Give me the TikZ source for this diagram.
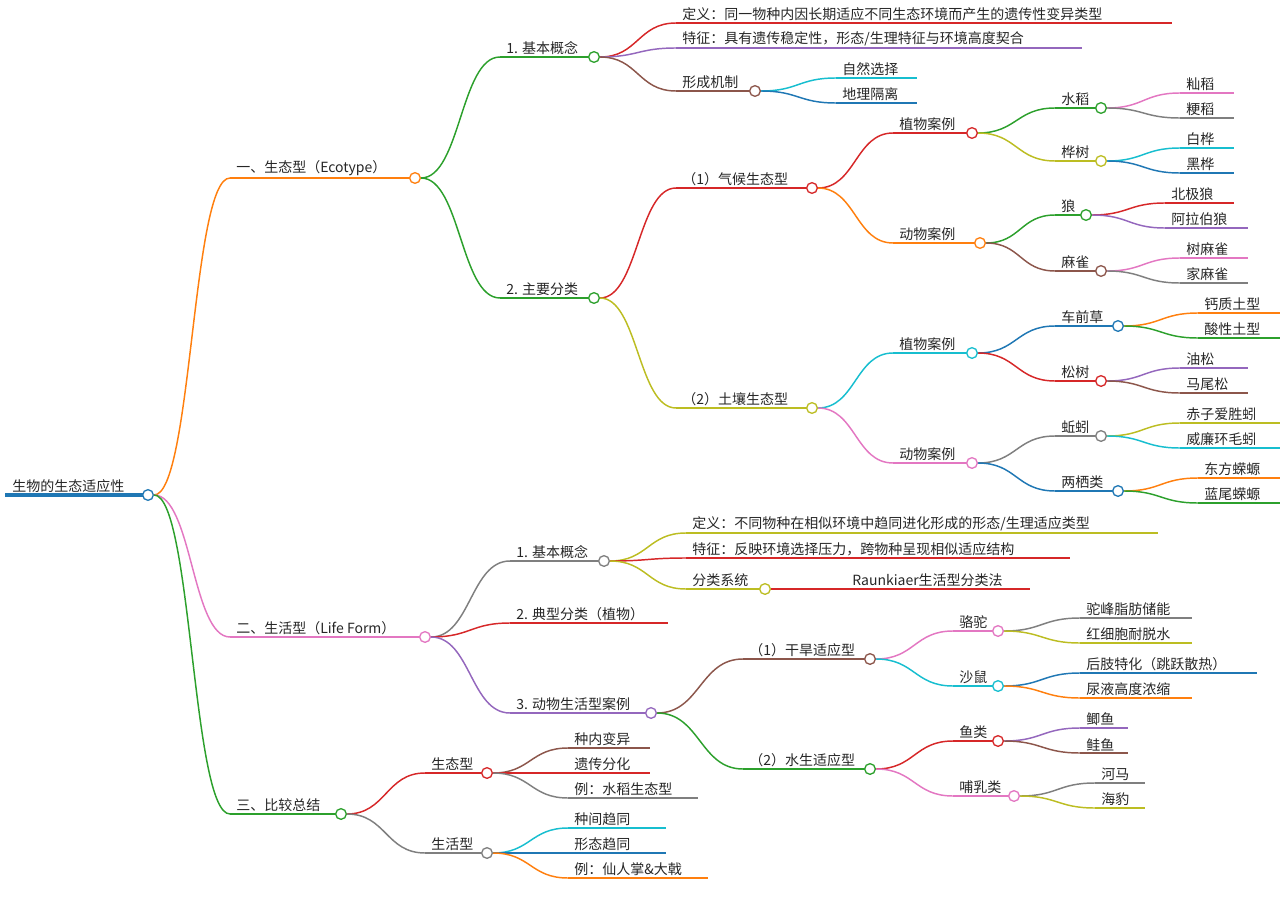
\documentclass[tikz,border=0pt]{standalone}
\usepackage{fontspec}
\setmainfont{Noto Sans CJK SC}
\usetikzlibrary{calc}
\definecolor{cO}{HTML}{FF7F0E}\definecolor{cP}{HTML}{E377C2}\definecolor{cG}{HTML}{2CA02C}
\definecolor{cR}{HTML}{D62728}\definecolor{cV}{HTML}{9467BD}\definecolor{cB}{HTML}{8C564B}
\definecolor{cY}{HTML}{7F7F7F}\definecolor{cL}{HTML}{BCBD22}\definecolor{cC}{HTML}{17BECF}
\definecolor{cU}{HTML}{1F77B4}
\tikzset{lw/.style={line width=1.1pt},
 lbl/.style={anchor=south west,inner sep=1.5pt,font=\fontsize{10.5}{12}\selectfont,text=black!85},
 dot/.style={circle,draw=#1,fill=white,line width=1pt,minimum size=8pt,inner sep=0pt}}
\newcommand\mn[6]{\coordinate (#1s) at (#2,#4);\coordinate (#1e) at (#3,#4);
 \draw[#5,lw] (#1s)--(#1e);
 \node[lbl] (#1) at ($(#1s)+(4,0)$) {#6};}
\newcommand\dt[2]{\node[dot=#2] (#1c) at (#1e) {};}
\newcommand\ed[3]{\coordinate (m#2) at ($(#1c.east)!.5!(#2s)$);
 \draw[#3,lw] (#1c.east) .. controls (m#2|-#1c.east) and (m#2|-#2s) .. (#2s);}
\begin{document}
\begin{tikzpicture}[x=0.75pt,y=-0.75pt]
\useasboundingbox (0,0) rectangle (1286,906);
% root
\coordinate (rs) at (5,495);\coordinate (re) at (148,495);
\draw[cU,line width=2.5pt] (rs)--(re);
\node[lbl] (r) at (10,495) {生物的生态适应性};
\dt{r}{cU}
% level 1
\mn{a}{230}{415}{178}{cO}{一、生态型（Ecotype）}\dt{a}{cO}\ed{r}{a}{cO}
\mn{b}{230}{425}{637}{cP}{二、生活型（Life Form）}\dt{b}{cP}\ed{r}{b}{cP}
\mn{c}{230}{341}{814}{cG}{三、比较总结}\dt{c}{cG}\ed{r}{c}{cG}
% A1
\mn{a1}{500}{594}{57}{cG}{1. 基本概念}\dt{a1}{cG}\ed{a}{a1}{cG}
\mn{a11}{676}{1172}{23}{cR}{定义：同一物种内因长期适应不同生态环境而产生的遗传性变异类型}\ed{a1}{a11}{cR}
\mn{a12}{676}{1082}{48}{cV}{特征：具有遗传稳定性，形态/生理特征与环境高度契合}\ed{a1}{a12}{cV}
\mn{a13}{676}{755}{91}{cB}{形成机制}\dt{a13}{cB}\ed{a1}{a13}{cB}
\mn{a131}{836}{917}{78}{cC}{自然选择}\ed{a13}{a131}{cC}
\mn{a132}{836}{917}{103}{cU}{地理隔离}\ed{a13}{a132}{cU}
% A2
\mn{a2}{500}{594}{298}{cG}{2. 主要分类}\dt{a2}{cG}\ed{a}{a2}{cG}
\mn{p}{676}{812}{188}{cR}{（1）气候生态型}\dt{p}{cR}\ed{a2}{p}{cR}
\mn{p1}{893}{972}{133}{cR}{植物案例}\dt{p1}{cR}\ed{p}{p1}{cR}
\mn{p11}{1055}{1101}{108}{cG}{水稻}\dt{p11}{cG}\ed{p1}{p11}{cG}
\mn{p111}{1180}{1234}{93}{cP}{籼稻}\ed{p11}{p111}{cP}
\mn{p112}{1180}{1234}{118}{cY}{粳稻}\ed{p11}{p112}{cY}
\mn{p12}{1055}{1101}{161}{cL}{桦树}\dt{p12}{cL}\ed{p1}{p12}{cL}
\mn{p121}{1180}{1234}{148}{cC}{白桦}\ed{p12}{p121}{cC}
\mn{p122}{1180}{1234}{173}{cU}{黑桦}\ed{p12}{p122}{cU}
\mn{p2}{893}{980}{243}{cO}{动物案例}\dt{p2}{cO}\ed{p}{p2}{cO}
\mn{p21}{1055}{1086}{215}{cG}{狼}\dt{p21}{cG}\ed{p2}{p21}{cG}
\mn{p211}{1165}{1234}{203}{cR}{北极狼}\ed{p21}{p211}{cR}
\mn{p212}{1165}{1248}{228}{cV}{阿拉伯狼}\ed{p21}{p212}{cV}
\mn{p22}{1055}{1101}{271}{cB}{麻雀}\dt{p22}{cB}\ed{p2}{p22}{cB}
\mn{p221}{1180}{1248}{258}{cP}{树麻雀}\ed{p22}{p221}{cP}
\mn{p222}{1180}{1248}{283}{cY}{家麻雀}\ed{p22}{p222}{cY}
\mn{q}{676}{812}{408}{cL}{（2）土壤生态型}\dt{q}{cL}\ed{a2}{q}{cL}
\mn{q1}{893}{972}{353}{cC}{植物案例}\dt{q1}{cC}\ed{q}{q1}{cC}
\mn{q11}{1055}{1118}{326}{cU}{车前草}\dt{q11}{cU}\ed{q1}{q11}{cU}
\mn{q111}{1198}{1280}{313}{cO}{钙质土型}\ed{q11}{q111}{cO}
\mn{q112}{1198}{1280}{338}{cG}{酸性土型}\ed{q11}{q112}{cG}
\mn{q12}{1055}{1101}{381}{cR}{松树}\dt{q12}{cR}\ed{q1}{q12}{cR}
\mn{q121}{1180}{1248}{368}{cV}{油松}\ed{q12}{q121}{cV}
\mn{q122}{1180}{1248}{393}{cB}{马尾松}\ed{q12}{q122}{cB}
\mn{q2}{893}{972}{463}{cP}{动物案例}\dt{q2}{cP}\ed{q}{q2}{cP}
\mn{q21}{1055}{1101}{436}{cY}{蚯蚓}\dt{q21}{cY}\ed{q2}{q21}{cY}
\mn{q211}{1180}{1280}{423}{cL}{赤子爱胜蚓}\ed{q21}{q211}{cL}
\mn{q212}{1180}{1280}{448}{cC}{威廉环毛蚓}\ed{q21}{q212}{cC}
\mn{q22}{1055}{1118}{491}{cU}{两栖类}\dt{q22}{cU}\ed{q2}{q22}{cU}
\mn{q221}{1198}{1280}{478}{cO}{东方蝾螈}\ed{q22}{q221}{cO}
\mn{q222}{1198}{1280}{503}{cG}{蓝尾蝾螈}\ed{q22}{q222}{cG}
% B
\mn{b1}{510}{604}{561}{cY}{1. 基本概念}\dt{b1}{cY}\ed{b}{b1}{cY}
\mn{b11}{686}{1158}{533}{cL}{定义：不同物种在相似环境中趋同进化形成的形态/生理适应类型}\ed{b1}{b11}{cL}
\mn{b12}{686}{1070}{558}{cR}{特征：反映环境选择压力，跨物种呈现相似适应结构}\ed{b1}{b12}{cR}
\mn{b13}{686}{765}{589}{cL}{分类系统}\dt{b13}{cL}\ed{b1}{b13}{cL}
\mn{b131}{846}{1030}{589}{cR}{Raunkiaer生活型分类法}\ed{b13}{b131}{cR}
\mn{b2}{510}{668}{623}{cR}{2. 典型分类（植物）}\ed{b}{b2}{cR}
\mn{b3}{510}{651}{713}{cV}{3. 动物生活型案例}\dt{b3}{cV}\ed{b}{b3}{cV}
\mn{s}{743}{870}{659}{cB}{（1）干旱适应型}\dt{s}{cB}\ed{b3}{s}{cB}
\mn{s1}{953}{998}{631}{cP}{骆驼}\dt{s1}{cP}\ed{s}{s1}{cP}
\mn{s11}{1080}{1192}{618}{cY}{驼峰脂肪储能}\ed{s1}{s11}{cY}
\mn{s12}{1080}{1192}{643}{cL}{红细胞耐脱水}\ed{s1}{s12}{cL}
\mn{s2}{953}{998}{686}{cC}{沙鼠}\dt{s2}{cC}\ed{s}{s2}{cC}
\mn{s21}{1080}{1257}{673}{cU}{后肢特化（跳跃散热）}\ed{s2}{s21}{cU}
\mn{s22}{1080}{1192}{698}{cO}{尿液高度浓缩}\ed{s2}{s22}{cO}
\mn{w}{743}{870}{769}{cG}{（2）水生适应型}\dt{w}{cG}\ed{b3}{w}{cG}
\mn{w1}{953}{998}{741}{cR}{鱼类}\dt{w1}{cR}\ed{w}{w1}{cR}
\mn{w11}{1080}{1128}{728}{cV}{鲫鱼}\ed{w1}{w11}{cV}
\mn{w12}{1080}{1128}{753}{cB}{鲑鱼}\ed{w1}{w12}{cB}
\mn{w2}{953}{1014}{796}{cP}{哺乳类}\dt{w2}{cP}\ed{w}{w2}{cP}
\mn{w21}{1095}{1145}{783}{cY}{河马}\ed{w2}{w21}{cY}
\mn{w22}{1095}{1145}{808}{cL}{海豹}\ed{w2}{w22}{cL}
% C
\mn{c1}{425}{487}{773}{cR}{生态型}\dt{c1}{cR}\ed{c}{c1}{cR}
\mn{c11}{568}{650}{748}{cB}{种内变异}\ed{c1}{c11}{cB}
\mn{c12}{568}{650}{773}{cR}{遗传分化}\ed{c1}{c12}{cR}
\mn{c13}{568}{698}{798}{cY}{例：水稻生态型}\ed{c1}{c13}{cY}
\mn{c2}{425}{487}{853}{cY}{生活型}\dt{c2}{cY}\ed{c}{c2}{cY}
\mn{c21}{568}{666}{828}{cC}{种间趋同}\ed{c2}{c21}{cC}
\mn{c22}{568}{666}{853}{cU}{形态趋同}\ed{c2}{c22}{cU}
\mn{c23}{568}{708}{878}{cO}{例：仙人掌\&大戟}\ed{c2}{c23}{cO}
\end{tikzpicture}
\end{document}
